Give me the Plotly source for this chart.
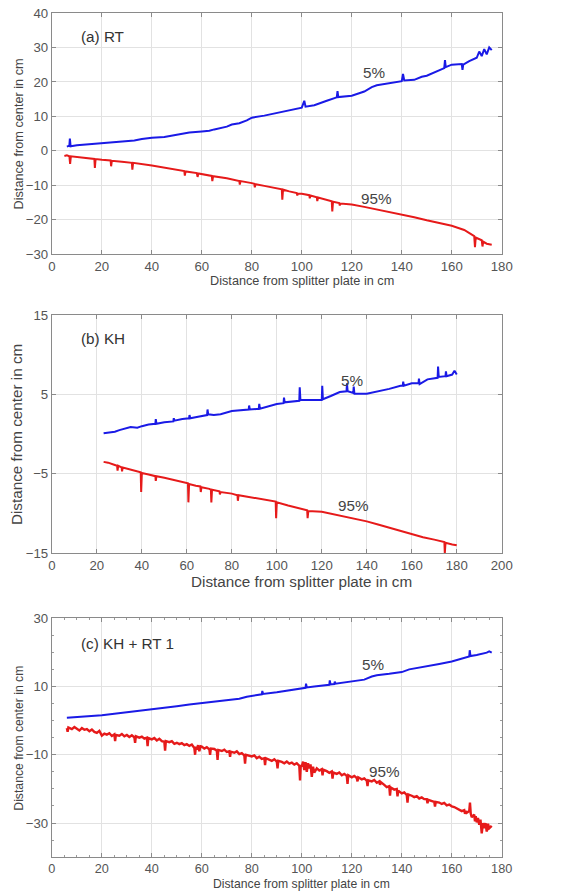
import plotly.graph_objects as go

# ---------------- data ----------------
a_blue_x = [6,7,7.2,7.5,10,15,20,25,30,33,36,40,45,50,55,60,63,65,70,72,75,78,80,85,90,95,100,101,101.5,105,107,110,114,114.3,114.6,118,120,125,128,130,135,140,140.5,141,145,148,150,155,157,157.3,157.6,160,164,164.3,164.6,167,170,171,172,173,174,175,176]
a_blue_y = [1.2,1.5,3.5,1.3,1.6,1.9,2.2,2.5,2.8,3.0,3.4,3.8,4.0,4.6,5.3,5.6,5.8,6.2,7.0,7.6,8.0,8.8,9.6,10.2,11.0,11.8,12.5,14.5,12.8,13.2,13.8,14.5,15.5,17.3,15.6,15.8,16.0,17.2,18.5,19.0,19.5,20.2,22.3,20.4,20.6,21.5,21.8,23.5,24.0,26.3,24.3,25.0,25.2,23.5,25.0,26.0,27.0,28.8,27.5,29.5,28.0,30.0,29.2]

a_red_x = [5,6,7,7.3,7.6,10,15,17,17.2,17.5,20,23.5,23.7,24,28,32,32.2,32.5,40,45,50,53,53.2,53.5,58,58.3,58.6,62,64,64.2,64.5,70,75,75.2,75.5,80,81,81.2,81.5,85,90,92,92.2,92.5,95,98,98.2,98.5,100,103,103.2,103.5,106,106.2,106.5,110,112,112.2,112.5,115,115.2,115.5,120,125,130,135,140,145,150,155,160,165,169,169.3,169.6,172,172.3,172.6,174,176]
a_red_y = [-1.5,-1.3,-1.6,-3.8,-1.6,-1.8,-2.2,-2.4,-5.0,-2.4,-2.6,-2.8,-4.5,-2.9,-3.2,-3.5,-5.5,-3.5,-4.3,-4.9,-5.5,-5.9,-7.2,-6.0,-6.5,-7.6,-6.6,-7.0,-7.3,-8.8,-7.4,-8.0,-8.8,-9.8,-8.8,-9.4,-9.6,-10.6,-9.7,-10.2,-10.8,-11.2,-14.2,-11.3,-11.8,-12.3,-13.0,-12.4,-12.5,-12.9,-13.8,-13.0,-13.5,-14.6,-13.6,-14.3,-14.7,-17.6,-14.8,-15.2,-15.9,-15.3,-15.6,-16.3,-17.0,-17.7,-18.5,-19.3,-20.2,-21.0,-21.8,-23.0,-24.8,-28.0,-25.2,-26.0,-27.8,-26.4,-27.0,-27.3]

b_blue_x = [23,25,28,30,33,35,38,40,43,45,46,46.2,46.5,50,54,54.2,54.5,58,61,61.2,61.5,65,69,69.2,69.5,72,75,80,85,87.5,87.7,88,92,92.2,92.5,96,100,103,103.2,103.5,107,110,110.2,110.5,115,120,120.2,120.5,124,128,131,131.2,131.5,134,134.2,134.5,140,145,150,155,156,156.2,156.5,160,163,163.2,163.5,167,170,171.5,171.7,172,175,175.2,175.5,178,179,180]
b_blue_y = [0.1,0.2,0.3,0.5,0.7,0.9,0.8,1.0,1.2,1.3,1.3,1.9,1.3,1.5,1.6,2.0,1.7,1.9,2.0,2.4,2.0,2.2,2.4,3.1,2.5,2.4,2.5,2.9,3.0,3.1,3.6,3.1,3.2,3.8,3.2,3.5,3.8,3.9,4.6,4.0,4.1,4.2,5.9,4.3,4.3,4.3,6.1,4.4,4.8,5.3,5.4,6.4,5.4,5.2,6.0,5.1,5.1,5.4,5.7,6.1,6.1,6.6,6.1,6.4,6.4,7.0,6.3,6.9,7.0,7.1,8.5,7.2,7.3,7.9,7.3,7.5,8.0,7.5]

b_red_x = [23,25,28,29,29.2,29.5,31,31.2,31.5,33,35,38,39.5,39.7,40,43,46,46.2,46.5,50,55,60,60.5,60.7,61,64,66,66.2,66.5,70,70.7,70.9,71.2,74.5,74.7,75,80,82.5,82.7,83,90,95,99.5,99.7,100,105,110,113.5,113.7,114,120,125,130,135,140,145,150,155,160,165,170,174.5,174.7,175,178,180]
b_red_y = [-3.5,-3.6,-3.9,-4.0,-4.6,-4.0,-4.2,-4.7,-4.2,-4.3,-4.5,-4.7,-4.8,-7.3,-4.9,-5.1,-5.3,-5.9,-5.3,-5.5,-5.8,-6.1,-6.2,-8.6,-6.3,-6.5,-6.6,-7.3,-6.7,-6.9,-7.0,-8.6,-7.0,-7.2,-7.6,-7.3,-7.5,-7.7,-8.4,-7.7,-8.0,-8.3,-8.5,-10.6,-8.6,-9.0,-9.4,-9.6,-10.6,-9.7,-9.8,-10.1,-10.4,-10.7,-11.0,-11.4,-11.8,-12.2,-12.6,-13.0,-13.3,-13.6,-15.0,-13.7,-13.9,-14.0]

c_blue_x = [6,10,15,20,25,30,35,40,45,50,55,60,65,70,75,78,80,84,84.2,84.5,90,95,100,101.5,101.7,102,105,110,111,111.2,111.5,113,113.2,113.5,118,120,125,128,130,135,140,143,145,150,155,160,163,165,167,167.2,167.5,170,172,174,175,176]
c_blue_y = [0.8,1.0,1.3,1.6,2.0,2.4,2.8,3.2,3.7,4.2,4.7,5.1,5.6,6.0,6.4,7.0,7.3,7.7,8.7,7.8,8.3,8.9,9.4,9.6,10.8,9.7,10.0,10.4,10.5,11.8,10.6,10.7,11.4,10.8,11.2,11.4,12.0,12.9,13.3,13.7,14.2,15.0,15.3,15.9,16.6,17.3,17.9,18.4,18.8,20.6,18.9,19.2,19.5,19.9,20.3,19.9]

c_red_x = [6,6.3,6.6,8,9,10,11,12,13,14,15,16,17,18,19,20,21,22,23,24,25,25.3,25.6,27,28,29,30,31,32,33,33.3,33.6,35,36,37,38,38.3,38.6,40,41,42,43,44,45,45.3,45.6,47,48,49,50,51,52,53,54,55,56,57,57.3,57.6,58,58.5,59,59.5,60,61,62,63,63.3,63.6,65,66,66.3,66.6,68,69,70,71,71.3,71.6,73,74,75,76,77,77.3,77.6,79,80,81,82,83,84,85,85.3,85.6,87,88,89,90,90.3,90.6,92,93,94,95,96,97,98,99,99.3,99.6,100,100.5,101,101.5,102,102.5,103,103.5,104,104.5,105,106,107,108,108.3,108.6,110,111,112,112.3,112.6,114,115,116,117,118,118.3,118.6,120,121,122,122.3,122.6,124,125,126,126.3,126.6,128,129,130,131,131.3,131.6,133,134,135,135.3,135.6,137,138,138.3,138.6,140,141,142,142.3,142.6,144,145,146,147,148,149,150,150.3,150.6,152,153,153.3,153.6,155,156,157,158,159,160,161,162,163,164,165,165.3,165.6,166,167,167.3,167.6,168,169,169.3,169.6,170,170.5,171,171.5,172,172.5,173,173.5,174,174.5,175,176]
c_red_y = [-2.2,-3.3,-2.0,-2.5,-1.9,-2.4,-2.9,-2.2,-2.7,-2.5,-3.1,-2.6,-3.3,-3.6,-3.0,-4.4,-3.8,-4.1,-3.7,-4.5,-4.0,-6.0,-4.2,-4.4,-3.9,-4.6,-4.2,-4.8,-4.3,-4.9,-6.5,-4.6,-5.0,-4.7,-5.3,-5.0,-7.5,-5.1,-5.5,-5.1,-5.8,-5.3,-6.0,-6.2,-8.8,-6.0,-6.3,-6.0,-6.8,-6.5,-6.9,-6.6,-7.2,-6.9,-7.4,-7.0,-8.0,-10.0,-7.6,-8.5,-7.2,-9.0,-7.5,-7.6,-8.2,-7.8,-8.4,-10.0,-8.2,-8.3,-8.8,-11.5,-8.6,-8.9,-8.5,-9.2,-9.0,-10.6,-9.1,-9.4,-9.0,-9.8,-9.5,-10.2,-12.6,-10.0,-10.3,-10.5,-10.2,-11.0,-10.6,-11.2,-11.0,-13.0,-11.0,-11.4,-11.8,-11.3,-12.0,-14.0,-11.8,-12.1,-12.5,-12.0,-12.6,-12.3,-12.9,-12.5,-13.2,-17.5,-13.0,-13.4,-12.0,-14.5,-12.2,-15.0,-12.5,-14.0,-12.8,-16.5,-13.5,-15.2,-14.0,-14.6,-14.2,-16.0,-14.4,-14.8,-15.3,-14.9,-17.0,-15.2,-15.6,-15.2,-16.0,-15.6,-16.2,-18.5,-16.0,-16.6,-16.2,-16.8,-17.8,-16.6,-17.2,-16.9,-17.6,-19.2,-17.5,-17.8,-17.4,-18.2,-17.8,-18.8,-18.0,-18.8,-19.5,-19.2,-22.0,-19.6,-20.2,-20.0,-22.2,-20.5,-21.3,-21.0,-21.8,-24.0,-21.6,-22.0,-22.4,-22.1,-22.8,-22.5,-23.0,-23.0,-24.2,-23.2,-23.5,-23.8,-25.2,-23.8,-24.0,-24.4,-24.1,-24.8,-24.6,-25.1,-25.3,-25.7,-26.0,-26.5,-26.2,-27.3,-26.5,-27.0,-26.5,-24.0,-27.2,-28.3,-27.5,-29.5,-28.0,-29.8,-28.5,-30.5,-29.0,-33.0,-30.0,-31.5,-30.0,-32.5,-30.2,-31.5,-30.8]

panel_labels = ["(a) RT", "(b) KH", "(c) KH + RT 1"]
series_labels = ["5%", "95%"]
x_title = "Distance from splitter plate in cm"
y_title = "Distance from center in cm"

# ---------------- layout geometry ----------------
W, H = 566, 895
# target page positions (t) -> figure pixels (compensates page offset / capture scaling)
SX, OX = 0.976, 3.0
SY, OY = 0.983, 6.0
def fx(t):
    return (t - OX) / SX
def fy(t):
    return (t - OY) / SY
def px(t):
    return fx(t) / W
def py(t):
    return min(1.0, max(0.0, (H - fy(t)) / H))
FS = 1.0 / SY  # font size compensation

BLUE = "#1a1ae6"
RED = "#e61a1a"
FONT = "Liberation Sans, Arial, Helvetica, sans-serif"

fig = go.Figure()
panels = [
    dict(bx=a_blue_x, by=a_blue_y, rx=a_red_x, ry=a_red_y, top=12, bot=253,
         xr=[0, 180], xd=20, yr=[-30, 40], yd=10, y0=-30, minor=False, rw=2, xtf=13,
         lab5=(129, 22.7), lab95=(130, -14.0), titlesize=12.5, ytx=18, xty=279),
    dict(bx=b_blue_x, by=b_blue_y, rx=b_red_x, ry=b_red_y, top=314, bot=552,
         xr=[0, 200], xd=20, yr=[-15, 15], yd=10, y0=-15, minor=False, rw=2, xtf=13,
         lab5=(133.5, 6.8), lab95=(134, -9.0), titlesize=15, ytx=15, xty=580),
    dict(bx=c_blue_x, by=c_blue_y, rx=c_red_x, ry=c_red_y, top=617, bot=856,
         xr=[0, 180], xd=20, yr=[-40, 30], yd=20, y0=-30, minor=True, rw=2.4, xtf=12.5,
         lab5=(128.6, 16.3), lab95=(133, -14.9), titlesize=12, ytx=18, xty=883),
]

left, right = 51, 502
annotations = []
for i, p in enumerate(panels):
    n = "" if i == 0 else str(i + 1)
    xa, ya = "x" + n, "y" + n
    fig.add_trace(go.Scatter(x=p["bx"], y=p["by"], mode="lines",
                             line=dict(color=BLUE, width=2), xaxis=xa, yaxis=ya,
                             showlegend=False, hoverinfo="skip"))
    fig.add_trace(go.Scatter(x=p["rx"], y=p["ry"], mode="lines",
                             line=dict(color=RED, width=p["rw"]), xaxis=xa, yaxis=ya,
                             showlegend=False, hoverinfo="skip"))
    axcommon = dict(showgrid=True, gridcolor="#e2e2e2", gridwidth=1,
                    showline=True, linecolor="#8a8a8a", linewidth=1, mirror="ticks",
                    ticks="inside", ticklen=4, tickcolor="#8a8a8a",
                    zeroline=False, fixedrange=True)
    xd = dict(domain=[px(left), px(right)], range=p["xr"], dtick=p["xd"],
              tick0=0, anchor=ya,
              tickfont=dict(family=FONT, size=p["xtf"] * FS, color="#555555"), **axcommon)
    yd = dict(domain=[py(p["bot"]), py(p["top"])], range=p["yr"],
              dtick=p["yd"], tick0=p["y0"], anchor=xa, ticklabelstandoff=0,
              tickfont=dict(family=FONT, size=13 * FS, color="#555555"), **axcommon)
    if p["minor"]:
        xd["minor"] = dict(ticks="inside", ticklen=2, dtick=5, tickcolor="#9a9a9a", showgrid=False)
        yd["minor"] = dict(ticks="inside", ticklen=2, dtick=5, tickcolor="#9a9a9a", showgrid=False)
    fig.update_layout(**{"xaxis" + n: xd, "yaxis" + n: yd})
    # panel label
    annotations.append(dict(text=panel_labels[i], x=px(78), y=py(p["top"] + (23 if i < 2 else 25)),
                            xref="paper", yref="paper", xanchor="left", yanchor="middle",
                            showarrow=False, font=dict(family=FONT, size=15 * FS, color="#333333")))
    # series labels
    for lab, pos in zip(series_labels, [p["lab5"], p["lab95"]]):
        annotations.append(dict(text=lab, x=pos[0], y=pos[1], xref=xa, yref=ya,
                                showarrow=False, font=dict(family=FONT, size=15 * FS, color="#444444")))
    # axis titles
    annotations.append(dict(text=x_title, x=px((left + right) / 2 + 25), y=py(p["xty"]),
                            xref="paper", yref="paper", xanchor="center", yanchor="middle",
                            showarrow=False, font=dict(family=FONT, size=p["titlesize"] * FS, color="#444444")))
    annotations.append(dict(text=y_title, x=px(p["ytx"]), y=py((p["top"] + p["bot"]) / 2),
                            xref="paper", yref="paper", xanchor="center", yanchor="middle",
                            textangle=-90, showarrow=False,
                            font=dict(family=FONT, size=p["titlesize"] * FS, color="#444444")))

fig.update_layout(width=W, height=H, margin=dict(l=0, r=0, t=0, b=0),
                  paper_bgcolor="white", plot_bgcolor="white",
                  annotations=annotations, font=dict(family=FONT))

fig.write_html("out.html", config={"displayModeBar": False})
